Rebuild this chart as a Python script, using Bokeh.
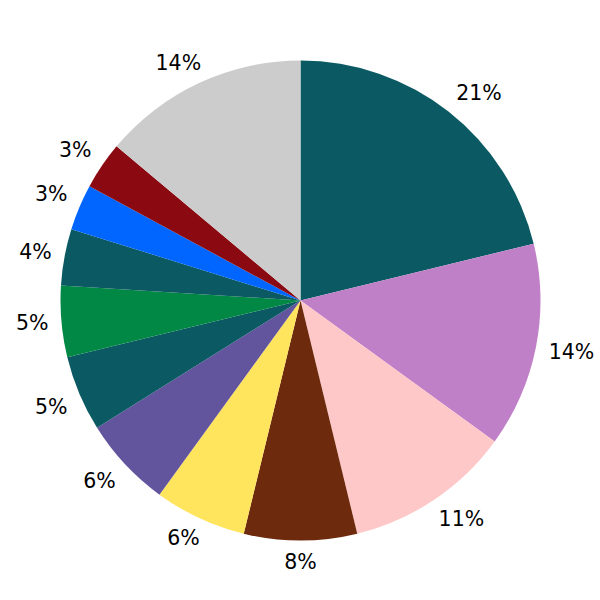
import numpy as np
from bokeh.plotting import figure
from bokeh.models import ColumnDataSource
from bokeh.core.properties import value
from bokeh.embed import file_html
from bokeh.resources import INLINE

shares = [21.2, 13.8, 11.2, 7.6, 6.2, 6.1, 5.1, 4.8, 3.8, 3.1, 3.2, 13.9]
labels = ["21%", "14%", "11%", "8%", "6%", "6%", "5%", "5%", "4%", "3%", "3%", "14%"]
colors = ["#0b5a63", "#c080c8", "#ffc8c8", "#6e2a0c", "#ffe45e", "#63549e",
          "#0b5a63", "#008844", "#0b5a63", "#0066ff", "#8b0a12", "#cccccc"]

R = 240
R0 = 254          # radius of the label anchor points
FS = 20.5         # font size px
frac = np.array(shares) / sum(shares)
cum = np.concatenate([[0], np.cumsum(frac)])
start = np.pi / 2 - 2 * np.pi * cum[:-1]
end = np.pi / 2 - 2 * np.pi * cum[1:]
mid = (start + end) / 2

ux, uy = np.cos(mid), np.sin(mid)
w = np.array([FS * (0.636 * (len(s) - 1) + 0.928) - 1.5 for s in labels])
h = 0.729 * FS
gx = np.minimum(1.0, 1.6 * np.abs(ux))
gy = np.clip((np.abs(uy) - 0.1) / 0.25, 0, 1)
lx = R0 * ux + np.sign(ux) * (w / 2) * gx
ly = R0 * uy + np.sign(uy) * (h / 2) * gy

src = ColumnDataSource(dict(start=start, end=end, color=colors,
                            lx=lx, ly=ly, label=labels))

p = figure(width=600, height=600, x_range=(-300, 300), y_range=(-300, 300),
           output_backend="svg", toolbar_location=None, min_border=0)
p.axis.visible = False
p.grid.visible = False
p.outline_line_color = None
p.background_fill_color = "white"

p.wedge(x=0, y=0, radius=R, start_angle="start", end_angle="end", direction="clock",
        fill_color="color", line_color=None, source=src)
p.text(x="lx", y="ly", text="label", source=src, text_align="center",
       text_baseline="middle", text_font=value("DejaVu Sans"),
       text_font_size=f"{FS}px", text_color="black")

open("out.html", "w").write(file_html(p, INLINE))
